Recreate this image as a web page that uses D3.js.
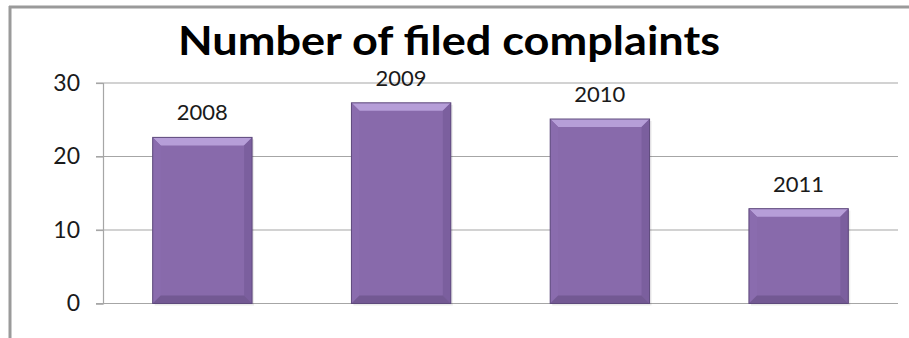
<!DOCTYPE html>
<html>
<head>
<meta charset="utf-8">
<script src="https://cdn.jsdelivr.net/npm/d3@7"></script>
<style>
  html, body { margin: 0; padding: 0; background: #ffffff; }
  svg { display: block; }
</style>
</head>
<body>
<script>
// Filed complaints per year
const years = ["2008", "2009", "2010", "2011"];
const complaints = [22.6, 27.3, 25.1, 12.9];
const yTicks = [0, 10, 20, 30];
const chartTitle = "Number of filed complaints";

const W = 909, H = 338;
const plot = { left: 103, right: 898, top: 83, bottom: 303.5 };

const svg = d3.select("body").append("svg")
  .attr("width", W).attr("height", H);

// outer frame (top and left edges visible)
svg.append("line").attr("x1", 9).attr("x2", W).attr("y1", 7).attr("y2", 7)
  .attr("stroke", "#9a9a9a").attr("stroke-width", 3);
svg.append("line").attr("x1", 10).attr("x2", 10).attr("y1", 6).attr("y2", H)
  .attr("stroke", "#9a9a9a").attr("stroke-width", 3);

const x = d3.scaleBand().domain(years).range([plot.left, plot.right]).paddingInner(0.5).paddingOuter(0.25);
const y = d3.scaleLinear().domain([0, 30]).range([plot.bottom, plot.top]);

// gridlines
svg.append("g").selectAll("line").data(yTicks).join("line")
  .attr("x1", plot.left - 7).attr("x2", plot.right)
  .attr("y1", d => y(d)).attr("y2", d => y(d))
  .attr("stroke", "#a6a6a6").attr("stroke-width", 1.2);

// y axis
const yAxis = d3.axisLeft(y).tickValues(yTicks).tickSize(7).tickPadding(16);
const gy = svg.append("g").attr("transform", `translate(${plot.left},0)`).call(yAxis);
gy.select(".domain").attr("stroke", "#a6a6a6").attr("stroke-width", 1.2);
gy.selectAll(".tick line").attr("stroke", "#a6a6a6").attr("stroke-width", 1.2);
gy.selectAll(".tick text")
  .attr("font-family", "Lato, 'Open Sans', sans-serif")
  .attr("font-size", 23).attr("fill", "#1a1a1a");

// bevelled bars
const bev = 8;
const barG = svg.append("g").selectAll("g").data(years).join("g");
barG.each(function(yr, i) {
  const g = d3.select(this);
  const x0 = x(yr), x1 = x0 + x.bandwidth();
  const y0 = y(complaints[i]), y1 = y(0);
  const poly = pts => pts.map(p => p.join(",")).join(" ");
  // soft shadow
  g.append("rect").attr("x", x0 + 2).attr("y", y0 + 2).attr("width", x1 - x0).attr("height", y1 - y0)
    .attr("fill", "#000").attr("opacity", 0.08);
  g.append("rect").attr("x", x0).attr("y", y0).attr("width", x1 - x0).attr("height", y1 - y0)
    .attr("fill", "#886aab");
  // top bevel
  g.append("polygon").attr("points", poly([[x0, y0], [x1, y0], [x1 - bev, y0 + bev], [x0 + bev, y0 + bev]]))
    .attr("fill", "#b69ed8");
  // left bevel
  g.append("polygon").attr("points", poly([[x0, y0], [x0 + bev, y0 + bev], [x0 + bev, y1 - bev], [x0, y1]]))
    .attr("fill", "#8a6cae");
  // right bevel
  g.append("polygon").attr("points", poly([[x1, y0], [x1 - bev, y0 + bev], [x1 - bev, y1 - bev], [x1, y1]]))
    .attr("fill", "#7b5f9e");
  // bottom bevel
  g.append("polygon").attr("points", poly([[x0, y1], [x0 + bev, y1 - bev], [x1 - bev, y1 - bev], [x1, y1]]))
    .attr("fill", "#735993");
  g.append("rect").attr("x", x0).attr("y", y0).attr("width", x1 - x0).attr("height", y1 - y0)
    .attr("fill", "none").attr("stroke", "#5e4a7c").attr("stroke-width", 1);
});

// year labels above bars
svg.append("g").selectAll("text").data(years).join("text")
  .attr("x", d => x(d) + x.bandwidth() / 2)
  .attr("y", (d, i) => y(complaints[i]) - 17)
  .attr("text-anchor", "middle")
  .attr("font-family", "Lato, 'Open Sans', sans-serif")
  .attr("font-size", 22).attr("fill", "#1a1a1a")
  .text(d => d);

// title
svg.append("text")
  .attr("x", 178).attr("y", 55)
  .attr("font-family", "Lato, 'Open Sans', sans-serif")
  .attr("font-weight", "bold")
  .attr("font-size", 40)
  .attr("textLength", 542).attr("lengthAdjust", "spacingAndGlyphs")
  .attr("fill", "#000")
  .text(chartTitle);
</script>
</body>
</html>
